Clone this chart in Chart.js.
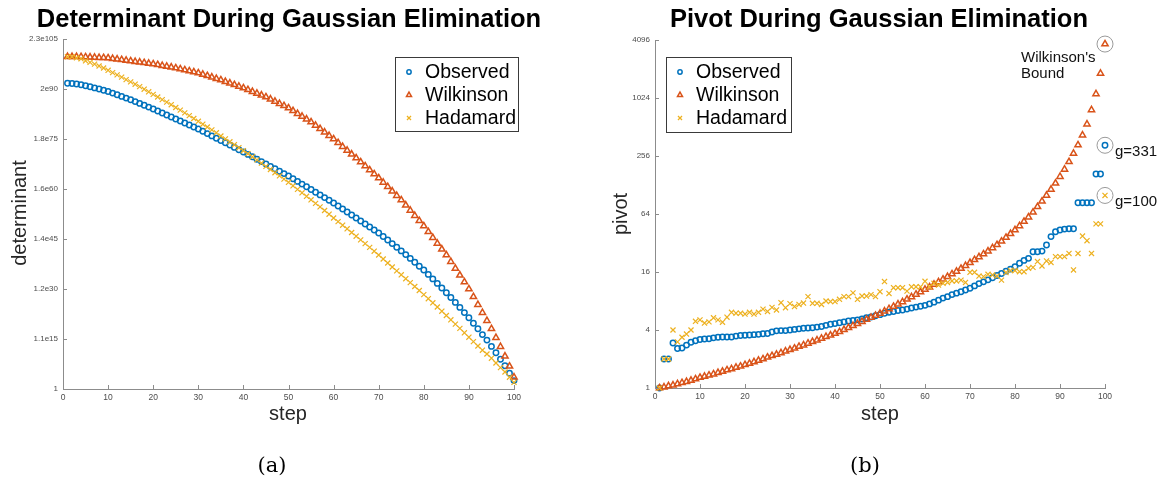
<!DOCTYPE html>
<html>
<head>
<meta charset="utf-8">
<script src="https://cdn.jsdelivr.net/npm/chart.js@4.4.1/dist/chart.umd.min.js"></script>
<style>
  html, body { margin:0; padding:0; background:#fff; }
  #page { position:relative; width:1160px; height:480px; overflow:hidden;
          font-family:"Liberation Sans", Arial, Helvetica, sans-serif; color:#000; }
  canvas { position:absolute; top:0; }
  .title { position:absolute; top:3px; font-weight:bold; font-size:25.5px; line-height:30px;
           text-align:center; white-space:nowrap; }
  .xlab  { position:absolute; top:401px; width:200px; font-size:20px; line-height:24px;
           text-align:center; color:#262626; }
  .ylab  { position:absolute; width:200px; font-size:20px; line-height:24px; text-align:center;
           color:#262626; transform:rotate(-90deg); }
  .cap   { position:absolute; top:451px; width:60px; text-align:center;
           font-family:"DejaVu Serif", "Liberation Serif", serif; font-size:21px; line-height:28px; }
</style>
</head>
<body>
<div id="page">
  <canvas id="det" width="580" height="480" style="left:0"></canvas>
  <canvas id="piv" width="580" height="480" style="left:580px"></canvas>

  <div class="title" style="left:0;width:578px">Determinant During Gaussian Elimination</div>
  <div class="title" style="left:580px;width:598px">Pivot During Gaussian Elimination</div>
  <div class="ylab" style="left:-81px;top:201px">determinant</div>
  <div class="ylab" style="left:520px;top:202px">pivot</div>
  <div class="xlab" style="left:188px">step</div>
  <div class="xlab" style="left:780px">step</div>
  <div class="cap" style="left:242px">(a)</div>
  <div class="cap" style="left:835px">(b)</div>
</div>

<script>
// ── Data (values are log2 of determinant / pivot) ─────────────
const steps = Array.from({ length: 100 }, (_, i) => i + 1);
const seriesNames = ['Observed', 'Wilkinson', 'Hadamard'];

const detTickValues = [0, 50, 100, 150, 200, 250, 300, 350];
const detTickLabels = ['1', '1.1e15', '1.2e30', '1.4e45', '1.6e60', '1.8e75', '2e90', '2.3e105'];
const pivTickValues = [0, 2, 4, 6, 8, 10, 12];
const pivTickLabels = ['1', '4', '16', '64', '256', '1024', '4096'];

const detObserved = [
  305.7,305.5,305.0,304.2,303.2,302.2,301.1,300.0,298.8,297.5,
  295.9,294.3,292.6,290.9,289.2,287.4,285.6,283.8,281.9,280.0,
  278.0,276.0,274.0,272.0,270.0,268.0,266.0,264.0,262.0,260.0,
  257.7,255.4,253.1,250.8,248.5,246.2,243.9,241.6,239.3,237.0,
  234.6,232.2,229.8,227.4,225.0,222.6,220.2,217.8,215.4,213.0,
  210.3,207.6,204.9,202.2,199.5,196.8,194.1,191.4,188.7,186.0,
  183.0,180.0,177.0,174.0,171.0,168.0,165.0,162.0,159.0,156.0,
  152.5,149.0,145.4,141.8,138.1,134.4,130.6,126.7,122.8,119.0,
  114.6,110.1,105.6,101.0,96.3,91.5,86.6,81.6,76.4,71.2,
  65.8,60.3,54.4,48.9,42.6,36.2,29.8,23.2,15.8,8.4];
const detWilkinson = [
  332.4,332.4,332.3,332.2,332.0,331.8,331.6,331.4,331.2,331.0,
  330.4,329.8,329.2,328.6,328.0,327.4,326.8,326.2,325.6,325.0,
  324.2,323.4,322.6,321.8,321.0,320.0,319.0,318.0,317.0,316.0,
  314.6,313.2,311.8,310.4,309.0,307.4,305.8,304.2,302.6,301.0,
  299.2,297.4,295.6,293.8,292.0,289.8,287.6,285.4,283.2,281.0,
  278.2,275.4,272.6,269.8,267.0,263.6,260.2,256.8,253.4,250.0,
  246.2,242.4,238.6,234.8,231.0,227.0,223.0,219.0,215.0,211.0,
  206.6,202.2,197.8,193.4,189.0,183.8,178.6,173.4,168.2,163.0,
  157.2,151.4,145.6,139.8,134.0,127.4,120.6,113.8,107.0,100.0,
  92.2,84.4,76.4,68.4,60.2,51.4,42.4,32.8,22.7,11.9];
const detHadamard = [
  332.2,332.2,331.2,330.2,328.2,326.6,324.9,323.0,321.0,318.7,
  316.4,314.1,311.9,309.4,307.1,304.8,302.4,299.8,297.2,294.6,
  292.0,289.4,286.9,284.3,281.5,278.9,276.1,273.4,270.5,267.7,
  264.8,262.0,259.1,256.2,253.0,250.1,247.2,244.3,241.3,238.3,
  235.3,232.2,229.1,225.9,222.6,219.5,216.3,213.1,209.9,206.7,
  203.2,199.6,196.2,192.7,189.2,185.6,182.1,178.5,174.8,171.0,
  167.4,163.8,160.2,156.5,152.8,149.1,145.4,141.6,137.8,134.0,
  130.0,126.0,122.0,118.1,114.2,110.3,106.4,102.5,98.5,94.4,
  90.3,86.2,82.0,77.8,73.5,69.2,64.9,60.6,56.2,51.8,
  47.4,43.0,38.8,35.0,30.8,26.0,21.4,17.0,11.8,6.6];

const pivObserved = [
  0.00,1.00,1.00,1.55,1.36,1.38,1.48,1.58,1.63,1.67,
  1.69,1.70,1.73,1.75,1.76,1.76,1.76,1.79,1.81,1.82,
  1.83,1.84,1.85,1.87,1.88,1.93,1.97,1.98,1.98,2.00,
  2.02,2.04,2.06,2.07,2.08,2.10,2.12,2.16,2.20,2.22,
  2.25,2.28,2.31,2.33,2.35,2.38,2.42,2.45,2.49,2.53,
  2.58,2.61,2.64,2.67,2.69,2.72,2.76,2.79,2.82,2.85,
  2.90,2.96,3.03,3.10,3.15,3.22,3.27,3.32,3.38,3.44,
  3.52,3.60,3.66,3.73,3.80,3.88,3.95,4.03,4.10,4.18,
  4.30,4.40,4.47,4.70,4.70,4.72,4.93,5.22,5.39,5.45,
  5.48,5.49,5.49,6.39,6.39,6.39,6.39,7.38,7.38,8.37];
const pivWilkinson = [
  0.00,0.03,0.07,0.10,0.14,0.18,0.22,0.26,0.31,0.36,
  0.40,0.44,0.48,0.53,0.57,0.62,0.66,0.71,0.75,0.80,
  0.85,0.90,0.95,1.00,1.06,1.11,1.16,1.21,1.27,1.32,
  1.37,1.43,1.48,1.54,1.60,1.65,1.71,1.77,1.82,1.88,
  1.94,2.01,2.08,2.15,2.22,2.29,2.36,2.43,2.50,2.57,
  2.65,2.73,2.81,2.89,2.97,3.06,3.14,3.23,3.31,3.40,
  3.48,3.57,3.66,3.75,3.84,3.93,4.02,4.12,4.22,4.32,
  4.42,4.52,4.62,4.72,4.83,4.94,5.06,5.19,5.32,5.45,
  5.59,5.74,5.89,6.06,6.25,6.44,6.64,6.85,7.06,7.29,
  7.54,7.80,8.09,8.38,8.72,9.10,9.59,10.14,10.85,11.86];
const pivHadamard = [
  0.00,1.00,1.00,2.00,1.59,1.75,1.86,2.00,2.30,2.35,
  2.24,2.28,2.42,2.35,2.27,2.44,2.61,2.58,2.58,2.55,
  2.61,2.55,2.61,2.72,2.64,2.78,2.69,2.94,2.77,2.91,
  2.81,2.88,2.93,3.15,2.92,2.92,2.88,3.00,2.98,2.98,
  3.06,3.15,3.15,3.28,3.06,3.17,3.17,3.22,3.15,3.32,
  3.67,3.26,3.46,3.46,3.46,3.34,3.49,3.49,3.49,3.68,
  3.49,3.61,3.55,3.61,3.64,3.69,3.69,3.72,3.64,3.99,
  3.99,3.86,3.84,3.92,3.90,3.86,3.72,3.98,4.05,4.05,
  4.01,4.01,4.13,4.16,4.36,4.21,4.38,4.33,4.53,4.53,
  4.53,4.64,4.07,4.64,5.24,5.08,4.64,5.66,5.66,6.64];

const growthNotes = ['g=331', 'g=100'];

// ── Styling ───────────────────────────────────────────────────
const C = { blue:'#0072BD', orange:'#D95319', yellow:'#EDB120',
            axis:'#8c8c8c', tick:'#4d4d4d', ring:'#9a9a9a' };
const FONT = '"Liberation Sans", Arial, Helvetica, sans-serif';
Chart.defaults.font.family = FONT;

const markers = [
  { style:'circle',   color:C.blue,   radius:2.7, width:1.5, order:2 },
  { style:'triangle', color:C.orange, radius:3.6, width:1.5, order:1 },
  { style:'crossRot', color:C.yellow, radius:3.6, width:1.2, order:0 },
];

function makeDatasets(seriesList) {
  return seriesList.map((vals, k) => ({
    label: seriesNames[k],
    data: steps.map((s, i) => ({ x: s, y: vals[i] })),
    showLine: false,
    clip: false,
    pointStyle: markers[k].style,
    pointRadius: markers[k].radius,
    pointBorderWidth: markers[k].width,
    pointBorderColor: markers[k].color,
    pointBackgroundColor: 'rgba(0,0,0,0)',
    borderColor: markers[k].color,
    backgroundColor: 'rgba(0,0,0,0)',
    order: markers[k].order,
  }));
}

// ── Plugins ───────────────────────────────────────────────────
const innerTicks = {
  id: 'innerTicks',
  afterDatasetsDraw(chart) {
    const { ctx, chartArea: a, scales: { x, y } } = chart;
    ctx.save();
    ctx.strokeStyle = C.axis; ctx.lineWidth = 1;
    ctx.beginPath();
    x.ticks.forEach(t => {
      const px = Math.round(x.getPixelForValue(t.value)) + 0.5;
      ctx.moveTo(px, a.bottom); ctx.lineTo(px, a.bottom - 4);
    });
    y.ticks.forEach(t => {
      const py = Math.round(y.getPixelForValue(t.value)) + 0.5;
      ctx.moveTo(a.left, py); ctx.lineTo(a.left + 4, py);
    });
    ctx.stroke();
    ctx.restore();
  }
};

const boxLegend = {
  id: 'boxLegend',
  afterDraw(chart, args, o) {
    if (!o || o.x == null) return;
    const ctx = chart.ctx;
    ctx.save();
    ctx.fillStyle = '#fff';
    ctx.fillRect(o.x, o.y, o.w, o.h);
    ctx.strokeStyle = '#3a3a3a'; ctx.lineWidth = 1;
    ctx.strokeRect(o.x + 0.5, o.y + 0.5, o.w, o.h);
    chart.data.datasets.forEach((ds, i) => {
      const cy = o.y + o.rowTop + i * o.rowGap;
      ctx.strokeStyle = ds.pointBorderColor;
      ctx.fillStyle = 'rgba(0,0,0,0)';
      ctx.lineWidth = ds.pointBorderWidth;
      Chart.helpers.drawPoint(ctx, { pointStyle: ds.pointStyle, radius: ds.pointRadius * 0.8,
        borderWidth: ds.pointBorderWidth, rotation: 0 }, o.x + o.markerX, cy);
      ctx.fillStyle = '#000';
      ctx.font = '19.5px ' + FONT;
      ctx.textAlign = 'left'; ctx.textBaseline = 'middle';
      ctx.fillText(ds.label, o.x + o.textX, cy + 1);
    });
    ctx.restore();
  }
};

// rings round the final pivots, with their notes
const pivotNotes = {
  id: 'pivotNotes',
  afterDraw(chart, args, o) {
    if (!o || !o.on) return;
    const { ctx, scales: { x, y } } = chart;
    const last = chart.data.datasets.map(ds => {
      const p = ds.data[ds.data.length - 1];
      return { x: x.getPixelForValue(p.x), y: y.getPixelForValue(p.y) };
    });
    ctx.save();
    ctx.strokeStyle = C.ring; ctx.lineWidth = 1;
    last.forEach(p => { ctx.beginPath(); ctx.arc(p.x, p.y, 8, 0, Math.PI * 2); ctx.stroke(); });
    ctx.fillStyle = '#111';
    ctx.font = '15px ' + FONT;
    ctx.textAlign = 'left'; ctx.textBaseline = 'middle';
    ctx.fillText("Wilkinson's", last[1].x - 84, last[1].y + 14);
    ctx.fillText('Bound', last[1].x - 84, last[1].y + 30);
    ctx.fillText(growthNotes[0], last[0].x + 10, last[0].y + 7);
    ctx.fillText(growthNotes[1], last[2].x + 10, last[2].y + 6);
    ctx.restore();
  }
};

// ── Charts ────────────────────────────────────────────────────
function buildChart(id, seriesList, cfg) {
  return new Chart(document.getElementById(id), {
    type: 'scatter',
    data: { datasets: makeDatasets(seriesList) },
    plugins: [innerTicks, boxLegend, pivotNotes],
    options: {
      responsive: false, animation: false, events: [],
      layout: { padding: { top: cfg.top, right: cfg.right, left: 0, bottom: 0 } },
      plugins: {
        legend: { display: false }, tooltip: { enabled: false },
        boxLegend: cfg.legend,
        pivotNotes: { on: cfg.notes },
      },
      scales: {
        x: {
          type: 'linear', min: 0, max: 100,
          border: { color: C.axis, width: 1 },
          grid: { display: false, drawTicks: false },
          ticks: { stepSize: 10, padding: 4, color: C.tick, font: { size: 8.5 }, maxRotation: 0 },
          afterFit: s => { s.height = 480 - cfg.bottom; },
        },
        y: {
          type: 'linear', min: cfg.tickValues[0], max: cfg.tickValues[cfg.tickValues.length - 1],
          border: { color: C.axis, width: 1 },
          grid: { display: false, drawTicks: false },
          ticks: { padding: 5, color: C.tick, font: { size: 8 },
                   callback: (v, i) => cfg.tickLabels[i] },
          afterBuildTicks: s => { s.ticks = cfg.tickValues.map(v => ({ value: v })); },
          afterFit: s => { s.width = cfg.left; },
        },
      },
    },
  });
}

buildChart('det', [detObserved, detWilkinson, detHadamard], {
  top: 39, bottom: 389, left: 63, right: 66,
  tickValues: detTickValues, tickLabels: detTickLabels, notes: false,
  legend: { x: 395, y: 57, w: 123, h: 74, rowTop: 15, rowGap: 23, markerX: 14, textX: 30 },
});

buildChart('piv', [pivObserved, pivWilkinson, pivHadamard], {
  top: 40, bottom: 388, left: 75, right: 55,
  tickValues: pivTickValues, tickLabels: pivTickLabels, notes: true,
  legend: { x: 86, y: 57, w: 125, h: 75, rowTop: 15, rowGap: 23, markerX: 14, textX: 30 },
});
</script>
</body>
</html>
